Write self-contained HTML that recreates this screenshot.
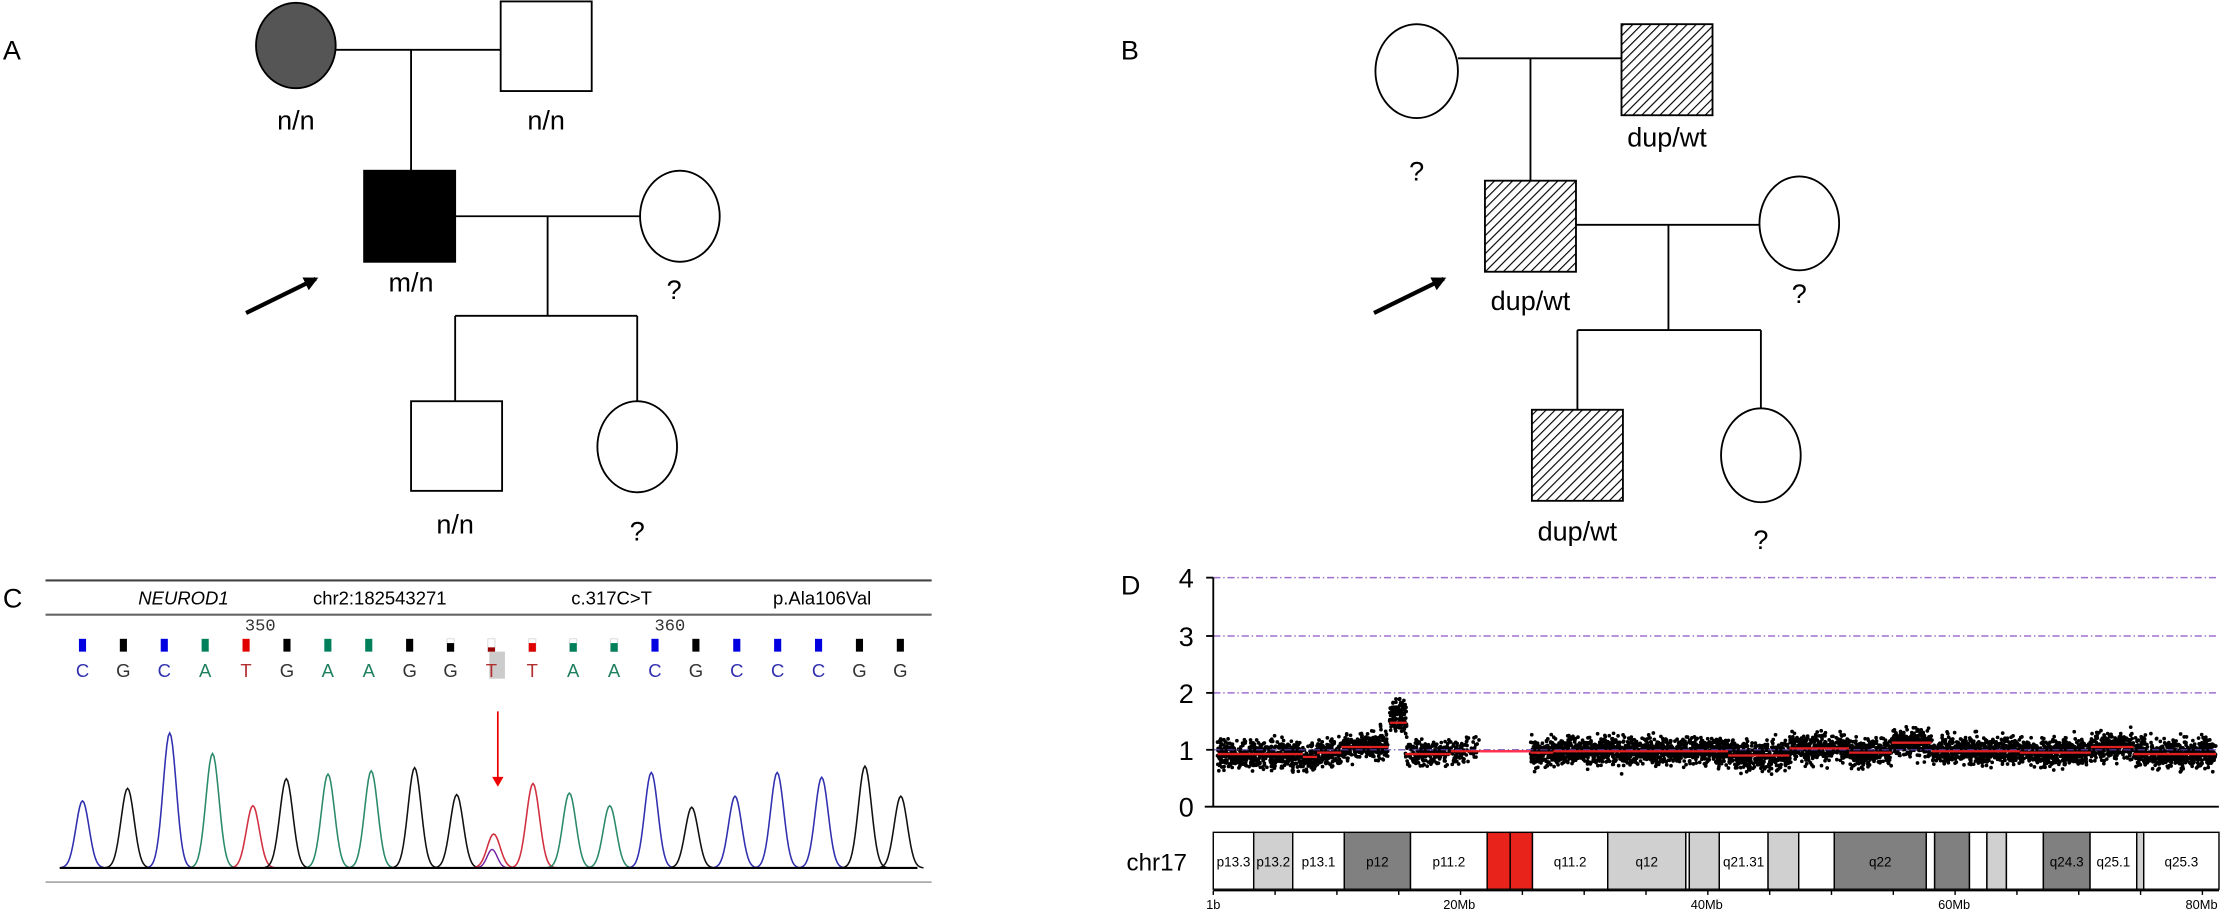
<!DOCTYPE html>
<html><head><meta charset="utf-8"><style>
html,body{margin:0;padding:0;background:#fff;}
svg{display:block;}
text{font-family:"Liberation Sans","DejaVu Sans",sans-serif;}
.pd{font-family:"DejaVu Sans Condensed","DejaVu Sans","Liberation Sans",sans-serif;font-size:19px;}
.se{font-family:"Liberation Serif",serif;font-size:13px;}
.mo{font-family:"Liberation Mono",monospace;font-size:12px;}
</style></head><body>
<svg id="s" width="2226" height="912" viewBox="0 0 1565 641" preserveAspectRatio="none" xmlns="http://www.w3.org/2000/svg">
<defs>
<pattern id="h" width="4.5" height="4.5" patternUnits="userSpaceOnUse" patternTransform="rotate(45)">
<rect width="4.5" height="4.5" fill="#fff"/><line x1="0" y1="0" x2="0" y2="4.5" stroke="#000" stroke-width="1.6"/>
</pattern>
<marker id="ar" markerWidth="10" markerHeight="10" refX="8" refY="5" orient="auto" markerUnits="userSpaceOnUse"><path d="M0,0 L10,5 L0,10 Z" fill="#000"/></marker>
</defs>
<g stroke="#000" stroke-width="1.3" fill="none">
<ellipse cx="208" cy="32" rx="28" ry="30" fill="#555"/>
<rect x="352" y="1" width="64" height="63" fill="#fff"/>
<line x1="236" y1="35" x2="352" y2="35"/><line x1="289" y1="35" x2="289" y2="120"/>
<rect x="256" y="120" width="64" height="64" fill="#000"/>
<line x1="320" y1="152" x2="450" y2="152"/>
<ellipse cx="478" cy="152" rx="28" ry="32" fill="#fff"/>
<line x1="385" y1="152" x2="385" y2="222"/><line x1="320" y1="222" x2="448" y2="222"/>
<line x1="320" y1="222" x2="320" y2="282"/><line x1="448" y1="222" x2="448" y2="282"/>
<rect x="289" y="282" width="64" height="63" fill="#fff"/>
<ellipse cx="448" cy="314" rx="28" ry="32" fill="#fff"/>
<line x1="173" y1="220" x2="222" y2="196" stroke-width="3" marker-end="url(#ar)"/>
<ellipse cx="996" cy="50" rx="29" ry="33" fill="#fff"/>
<rect x="1140" y="17" width="64" height="64" fill="url(#h)"/>
<line x1="1025" y1="41" x2="1140" y2="41"/><line x1="1076" y1="41" x2="1076" y2="127"/>
<rect x="1044" y="127" width="64" height="64" fill="url(#h)"/>
<line x1="1108" y1="158" x2="1237" y2="158"/>
<ellipse cx="1265" cy="157" rx="28" ry="33" fill="#fff"/>
<line x1="1173" y1="158" x2="1173" y2="232"/><line x1="1109" y1="232" x2="1238" y2="232"/>
<line x1="1109" y1="232" x2="1109" y2="288"/><line x1="1238" y1="232" x2="1238" y2="287"/>
<rect x="1077" y="288" width="64" height="64" fill="url(#h)"/>
<ellipse cx="1238" cy="320" rx="28" ry="33" fill="#fff"/>
<line x1="966" y1="220" x2="1015" y2="196" stroke-width="3" marker-end="url(#ar)"/>
</g>
<g font-size="20" text-anchor="middle" class="pd" fill="#000">
<text x="208" y="91">n/n</text><text x="384" y="91">n/n</text>
<text x="289" y="205">m/n</text><text x="474" y="210">?</text>
<text x="320" y="375">n/n</text><text x="448" y="380">?</text>
<text x="996" y="127">?</text><text x="1172" y="103">dup/wt</text>
<text x="1076" y="218">dup/wt</text><text x="1265" y="213">?</text>
<text x="1109" y="380">dup/wt</text><text x="1238" y="386">?</text>
</g>
<g class="pd" font-size="21" fill="#000">
<text x="2" y="42">A</text><text x="788" y="42">B</text>
<text x="2" y="427">C</text><text x="788" y="418">D</text>
</g>
<line x1="32" y1="408" x2="655" y2="408" stroke="#444" stroke-width="1.5"/>
<line x1="32" y1="432" x2="655" y2="432" stroke="#666" stroke-width="1.5"/>
<g class="se" text-anchor="middle" fill="#000">
<text x="129" y="425" font-style="italic">NEUROD1</text>
<text x="267" y="425">chr2:182543271</text>
<text x="430" y="425">c.317C&gt;T</text>
<text x="578" y="425">p.Ala106Val</text>
</g>
<text class="mo" x="183" y="443" text-anchor="middle" fill="#333">350</text>
<text class="mo" x="471" y="443" text-anchor="middle" fill="#333">360</text>
<rect x="344" y="458" width="11" height="19" fill="#ccc"/>
<g id="bases"></g>
<g id="chrom"></g>
<line x1="32" y1="620" x2="655" y2="620" stroke="#aaa" stroke-width="1.2"/>
<line x1="42" y1="610" x2="645" y2="610" stroke="#000" stroke-width="1.5"/>
<line x1="350" y1="500" x2="350" y2="548" stroke="#e00" stroke-width="1.2"/>
<path d="M346,546 L350,553 L354,546 Z" fill="#e00"/>
<g stroke="#a070d0" stroke-width="1" stroke-dasharray="5,2,1,2">
<line x1="853" y1="406" x2="1560" y2="406"/><line x1="853" y1="447" x2="1560" y2="447"/><line x1="853" y1="487" x2="1560" y2="487"/>
</g>
<g id="dots"></g>
<line x1="853" y1="527" x2="1560" y2="527" stroke="#6040b0" stroke-width="0.8" stroke-dasharray="5,2,1,2"/>
<g id="seg"></g>
<g stroke="#000" stroke-width="1.3">
<line x1="853" y1="406" x2="853" y2="567"/><line x1="847" y1="567" x2="1560" y2="567"/>
<line x1="848" y1="406" x2="853" y2="406"/><line x1="848" y1="447" x2="853" y2="447"/><line x1="848" y1="487" x2="853" y2="487"/><line x1="848" y1="527" x2="853" y2="527"/>
</g>
<g class="pd" font-size="19" text-anchor="middle">
<text x="834" y="413">4</text><text x="834" y="454">3</text><text x="834" y="494">2</text><text x="834" y="534">1</text><text x="834" y="574">0</text>
</g>
<text x="792" y="612" font-size="17" fill="#000">chr17</text>
<g id="bar"></g>
</svg>
<script>
var s='http://www.w3.org/2000/svg';
function el(p,t,a,txt){var e=document.createElementNS(s,t);for(var k in a)e.setAttribute(k,a[k]);if(txt)e.textContent=txt;p.appendChild(e);return e;}
var col={C:'#0000e0',G:'#000',A:'#00805a',T:'#e00000'};
var lc={C:'#3030b0',G:'#333',A:'#208060',T:'#b03030'};
var seq='CGCATGAAGGTTAACGCCCGG';var B=document.getElementById('bases');
for(var i=0;i<21;i++){var x=58+i*28.75,c=seq[i];
 var partial=(i>=9&&i<=13);
 if(partial){el(B,'rect',{x:x-2.5,y:449,width:5,height:9,fill:'#fff',stroke:'#ccc','stroke-width':0.5});el(B,'rect',{x:x-2.5,y:(i==10?455:452),width:5,height:(i==10?3:6),fill:(i==10?'#900':col[c])});}
 else el(B,'rect',{x:x-2.5,y:449,width:5,height:9,fill:col[c]});
 el(B,'text',{x:x,y:476,'text-anchor':'middle','font-family':'Liberation Mono,monospace','font-size':13,fill:lc[c]},c);}
var xs=[75,153,226,300,370,428,500,575,650,723,787,855,918,988,1060,1130,1205,1278,1355,1430,1492];
var ys=[310,270,95,160,325,240,225,215,205,290,415,255,285,325,220,330,295,220,235,200,295];
var pc={C:'#3030b0',G:'#111',A:'#2a8a6a',T:'#d03040'};
var CH=document.getElementById('chrom');
for(var i=0;i<21;i++){var cx=58+(xs[i]-75)*0.406,h=(522-ys[i])*0.222,d='';
 for(var t=-16;t<=16;t+=1){var y=610-h*Math.exp(-Math.pow(t/6.5,2));d+=(t==-16?'M':'L')+(cx+t).toFixed(1)+','+y.toFixed(1);}
 el(CH,'path',{d:d,fill:'none',stroke:pc[seq[i]],'stroke-width':1.1});}
(function(){var cx=346,d='';for(var t=-10;t<=10;t++){var y=610-13*Math.exp(-Math.pow(t/5,2));d+=(t==-10?'M':'L')+(cx+t)+','+y;}el(CH,'path',{d:d,fill:'none',stroke:'#7020a0','stroke-width':1});})();
var seed=7;function r(){seed=(seed*16807)%2147483647;return seed/2147483647;}
function g(){return (r()+r()+r()+r()-2)/2;}
var D=document.getElementById('dots');var pts='';
function region(x0,x1,mean,n,sd){for(var i=0;i<n;i++){var x=x0+r()*(x1-x0);var y=mean+g()*sd;if(r()<0.02)y+=(r()-0.5)*20;pts+='M'+x.toFixed(1)+','+y.toFixed(1)+'h0.01';}}
var segs=[[856,916,530],[916,926,532],[926,943,529],[943,976,525],[988,1020,530],[1020,1041,528],[1076,1092,529],[1092,1215,528],[1215,1240,531],[1240,1258,531],[1258,1300,526],[1300,1330,529],[1330,1358,522],[1358,1420,528],[1420,1470,529],[1470,1500,525],[1500,1558,530]];
segs.forEach(function(sg){if(sg[0]>=988&&sg[1]<=1041)return;region(sg[0],sg[1],sg[2],Math.round((sg[1]-sg[0])*9),16);});
region(977,989,503,140,20);
region(988,1030,529,250,15);
region(1030,1041,525,25,15);
el(D,'path',{d:pts,stroke:'#000','stroke-width':2.6,'stroke-linecap':'round',fill:'none'});
var S=document.getElementById('seg');
segs.forEach(function(sg){el(S,'line',{x1:sg[0],y1:sg[2],x2:sg[1],y2:sg[2],stroke:'#e02020','stroke-width':1.6});});
el(S,'line',{x1:977,y1:508,x2:989,y2:508,stroke:'#e02020','stroke-width':1.6});
el(S,'line',{x1:1041,y1:528,x2:1076,y2:528,stroke:'#ff3050','stroke-width':1.8});
var BR=document.getElementById('bar');
function X(xd){return 853+(xd-112)*0.49;}
var bands=[[112,170,'#fff','p13.3'],[170,226,'#d0d0d0','p13.2'],[226,300,'#fff','p13.1'],[300,395,'#808080','p12'],[395,505,'#fff','p11.2'],[505,538,'#e8231b',''],[538,570,'#e8231b',''],[570,678,'#fff','q11.2'],[678,790,'#d0d0d0','q12'],[790,795,'#fff',''],[795,838,'#d0d0d0',''],[838,908,'#fff','q21.31'],[908,952,'#d0d0d0',''],[952,1003,'#fff',''],[1003,1135,'#808080','q22'],[1135,1147,'#fff',''],[1147,1197,'#808080',''],[1197,1222,'#fff',''],[1222,1250,'#d0d0d0',''],[1250,1303,'#fff',''],[1303,1370,'#808080','q24.3'],[1370,1437,'#fff','q25.1'],[1437,1447,'#d0d0d0',''],[1447,1555,'#fff','q25.3']];
bands.forEach(function(b){var x0=X(b[0]),x1=X(b[1]);el(BR,'rect',{x:x0,y:585,width:x1-x0,height:40,fill:b[2],stroke:'#000','stroke-width':1});
 if(b[3])el(BR,'text',{x:(x0+x1)/2,y:609,'text-anchor':'middle','font-size':9.5,fill:'#000','font-family':'Liberation Sans Narrow,Liberation Sans,sans-serif'},b[3]);});
el(BR,'line',{x1:X(112),y1:626,x2:X(1555),y2:626,stroke:'#000','stroke-width':1});
for(var t=112;t<=1555;t+=88.7){el(BR,'line',{x1:X(t),y1:626,x2:X(t),y2:629,stroke:'#000','stroke-width':1});}
[[112,'1b'],[465,'20Mb'],[820,'40Mb'],[1175,'60Mb'],[1530,'80Mb']].forEach(function(l){el(BR,'text',{x:X(l[0]),y:639,'text-anchor':'middle','font-size':9,fill:'#000'},l[1]);});
</script>
</body></html>
